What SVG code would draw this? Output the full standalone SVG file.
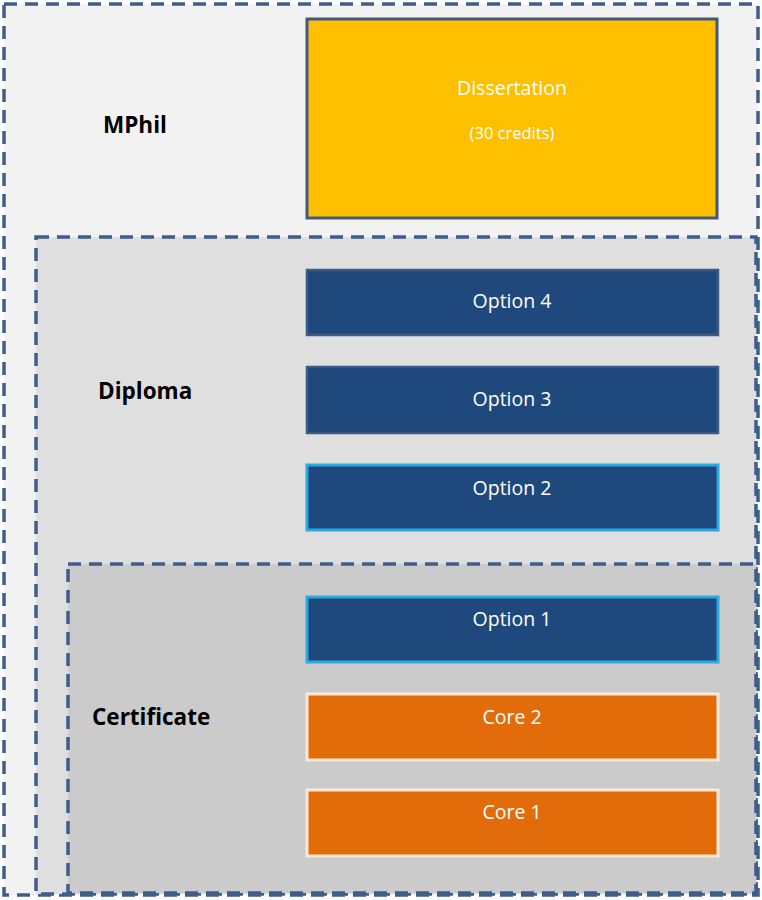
<svg xmlns="http://www.w3.org/2000/svg" width="762" height="900" viewBox="0 0 762 900">
<style>
.zone{stroke:#3e5d8a;stroke-width:3.5;stroke-dasharray:13 8}
.lbl{font-family:"Open Sans","Liberation Sans",sans-serif;font-weight:bold;font-size:22.5px;fill:#000}
.t{font-family:"Open Sans","Liberation Sans",sans-serif;font-size:19.5px;fill:#fff;text-anchor:middle}
.opt{fill:#1f497d;stroke:#3b5a86;stroke-width:2.5}
.optb{fill:#1f497d;stroke:#29a9e1;stroke-width:3}
.core{fill:#e36c0a;stroke:#fde9d5;stroke-width:3}
</style>
<rect width="762" height="900" fill="#ffffff"/>
<g id="mphil">
<rect class="zone" x="4" y="4" width="754" height="891" fill="#f2f2f2"/>
<text class="lbl" x="103" y="133">MPhil</text>
</g>
<g id="diploma">
<rect class="zone" x="36" y="237" width="720" height="657" fill="#dfdfdf"/>
<text class="lbl" x="98" y="399">Diploma</text>
</g>
<g id="certificate">
<rect class="zone" x="68" y="564" width="688" height="329" fill="#cbcbcb"/>
<text class="lbl" x="92" y="725">Certificate</text>
</g>
<g id="dissertation">
<rect x="307" y="19" width="410" height="199" fill="#ffc000" stroke="#415a7e" stroke-width="3"/>
<text class="t" x="512" y="95">Dissertation</text>
<text class="t" x="512" y="139" style="font-size:16.5px">(30 credits)</text>
</g>
<g id="option4">
<rect class="opt" x="307" y="270" width="411" height="65"/>
<text class="t" x="512" y="308">Option 4</text>
</g>
<g id="option3">
<rect class="opt" x="307" y="367" width="411" height="66"/>
<text class="t" x="512" y="406">Option 3</text>
</g>
<g id="option2">
<rect class="optb" x="307" y="465" width="411" height="65"/>
<text class="t" x="512" y="495">Option 2</text>
</g>
<g id="option1">
<rect class="optb" x="307" y="597" width="411" height="65"/>
<text class="t" x="512" y="626">Option 1</text>
</g>
<g id="core2">
<rect class="core" x="307" y="694" width="411" height="66"/>
<text class="t" x="512" y="724">Core 2</text>
</g>
<g id="core1">
<rect class="core" x="307" y="790" width="411" height="66"/>
<text class="t" x="512" y="819">Core 1</text>
</g>
<g id="connectors"></g>
</svg>
